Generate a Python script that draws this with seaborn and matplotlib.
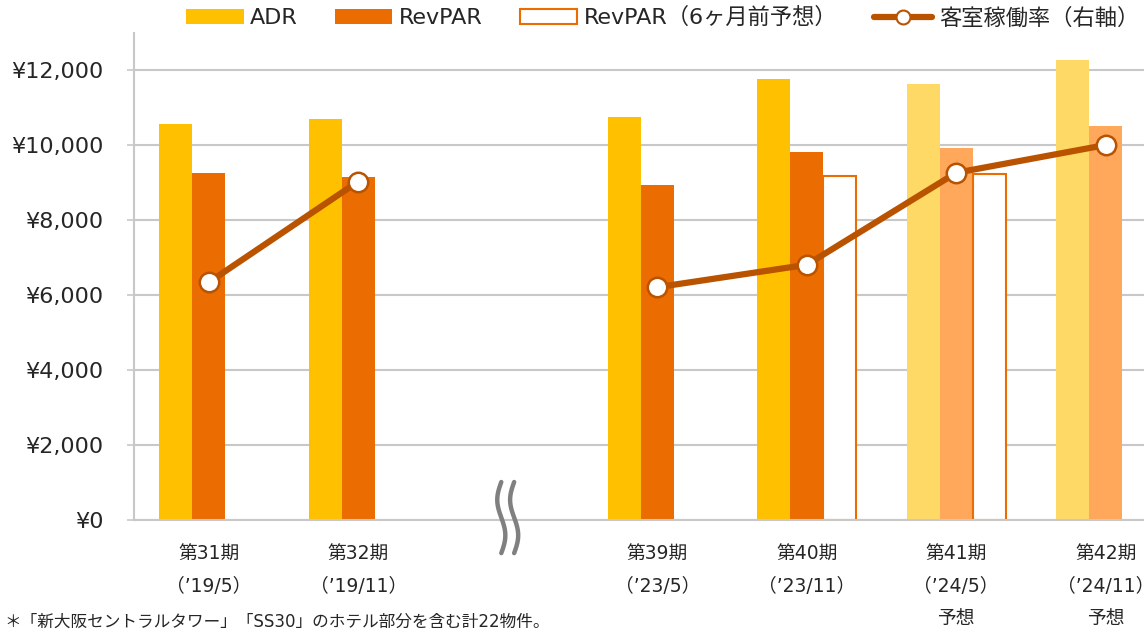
import numpy as np
import pandas as pd
import seaborn as sns
from matplotlib import pyplot as plt
from matplotlib.patches import Patch
from matplotlib.lines import Line2D
from matplotlib.ticker import StrMethodFormatter
import matplotlib.transforms as mtransforms

# data
periods = ["第31期", "第32期", "", "第39期", "第40期", "第41期", "第42期"]
dates = ["（’19/5）", "（’19/11）", "", "（’23/5）", "（’23/11）", "（’24/5）", "（’24/11）"]
notes = ["", "", "", "", "", "予想", "予想"]
adr = [10560, 10700, None, 10760, 11770, 11640, 12280]
revpar = [9250, 9150, None, 8955, 9820, 9930, 10515]
revpar_fcst = [None, None, None, None, 9185, 9245, None]
occupancy = [48.8, 69.5, None, 47.8, 52.4, 71.3, 77.0]

series_names = ["ADR", "RevPAR", "RevPAR（6ヶ月前予想）"]
line_name = "客室稼働率（右軸）"

ADR_C, REV_C = "#FFC000", "#EB6C00"
ADR_LIGHT, REV_LIGHT = "#FFD966", "#FFA75A"
LINE_C = "#B95300"
GRID_C = "#C8C8C8"


def build_bar_frame():
    rows = []
    for i, p in enumerate(periods):
        for name, vals in zip(series_names, [adr, revpar, revpar_fcst]):
            if vals[i] is not None:
                rows.append({"pos": str(i), "series": name, "value": vals[i]})
    return pd.DataFrame(rows)


def build_line_frame():
    rows = []
    seg = 0
    for i, v in enumerate(occupancy):
        if v is None:
            seg += 1
            continue
        rows.append({"pos": i, "occ": v, "seg": seg})
    return pd.DataFrame(rows)


def main():
    sns.set_style("white")
    plt.rcParams["font.family"] = ["DejaVu Sans", "Noto Sans CJK JP"]

    fig = plt.figure(figsize=(11.44, 6.32), dpi=100)
    ax = fig.add_axes([0.1171, 0.1772, 0.9148, 0.7706])

    bar_df = build_bar_frame()
    order = [str(i) for i in range(len(periods))]
    sns.barplot(data=bar_df, x="pos", y="value", hue="series", order=order,
                hue_order=series_names, width=0.662, errorbar=None, saturation=1,
                palette=[ADR_C, REV_C, "white"], legend=False, ax=ax, zorder=2)

    # forecast periods drawn lighter, forecast RevPAR as outline
    for name, cont in zip(series_names, ax.containers):
        for bar in cont:
            i = int(round(bar.get_x() + bar.get_width() / 2))
            light = notes[i] != ""
            if name == "ADR":
                bar.set_facecolor(ADR_LIGHT if light else ADR_C)
                bar.set_edgecolor("none")
            elif name == "RevPAR":
                bar.set_facecolor(REV_LIGHT if light else REV_C)
                bar.set_edgecolor("none")
            else:
                bar.set_facecolor("white")
                bar.set_edgecolor(REV_C)
                bar.set_linewidth(1.5)

    ax.set_ylim(0, 13000)
    ax.set_yticks(np.arange(0, 12001, 2000))
    ax.yaxis.set_major_formatter(StrMethodFormatter("¥{x:,.0f}"))
    ax.grid(axis="y", color=GRID_C, lw=1.5, zorder=0)
    ax.set_axisbelow(True)
    ax.set_xlabel("")
    ax.set_ylabel("")

    labels = ["\n".join([t for t in (p, d, n) if t]) for p, d, n in zip(periods, dates, notes)]
    ax.set_xticks(range(len(periods)))
    ax.set_xticklabels(labels, fontsize=13.5)
    for lab in ax.get_xticklabels():
        lab.set_linespacing(1.87)
    ax.set_xticks(np.arange(-0.5, len(periods), 1), minor=True)
    ax.tick_params(axis="x", which="major", length=0, pad=18)
    ax.tick_params(axis="x", which="minor", length=5, width=1.2, color=GRID_C)
    ax.tick_params(axis="y", length=5, width=1.2, color=GRID_C, pad=17, labelsize=16)

    for s in ["top", "right"]:
        ax.spines[s].set_visible(False)
    for s in ["left", "bottom"]:
        ax.spines[s].set_color(GRID_C)
        ax.spines[s].set_linewidth(1.5)

    # occupancy on hidden right axis
    ax2 = ax.twinx()
    line_df = build_line_frame()
    sns.lineplot(data=line_df, x="pos", y="occ", units="seg", estimator=None,
                 color=LINE_C, lw=4.5, marker="o", markersize=14,
                 markerfacecolor="white", markeredgecolor=LINE_C, markeredgewidth=1.8,
                 ax=ax2)
    ax2.set_ylim(0, 100)
    ax2.set_axis_off()
    ax.set_xlim(-0.5, len(periods) - 0.5)

    # axis break mark in the gap
    gap = periods.index("")
    trans = mtransforms.blended_transform_factory(ax.transData, ax.transAxes)
    t = np.linspace(0, 1, 60)
    for dx in (-0.043, 0.043):
        xs = gap + dx - 0.027 * np.sin(2 * np.pi * t)
        ys = 0.078 - 0.146 * t
        ax.plot(xs, ys, transform=trans, color="#808080", lw=3.2, clip_on=False, zorder=5)

    handles = [
        Patch(facecolor=ADR_C, edgecolor="none"),
        Patch(facecolor=REV_C, edgecolor="none"),
        Patch(facecolor="white", edgecolor=REV_C, linewidth=1.5),
        Line2D([0], [0], color=LINE_C, lw=4.5, marker="o", markersize=10,
               markerfacecolor="white", markeredgecolor=LINE_C, markeredgewidth=1.5),
    ]
    fig.legend(handles, series_names + [line_name], loc="center", ncol=4,
               bbox_to_anchor=(0.579, 0.972), frameon=False, fontsize=16,
               handlelength=2.6, handleheight=0.6, handletextpad=0.3,
               columnspacing=1.65)

    fig.text(0.004, 0.016, "＊「新大阪セントラルタワー」「SS30」のホテル部分を含む計22物件。",
             fontsize=12, va="center", ha="left")

    fig.savefig("out.png", dpi=100)


if __name__ == "__main__":
    main()
